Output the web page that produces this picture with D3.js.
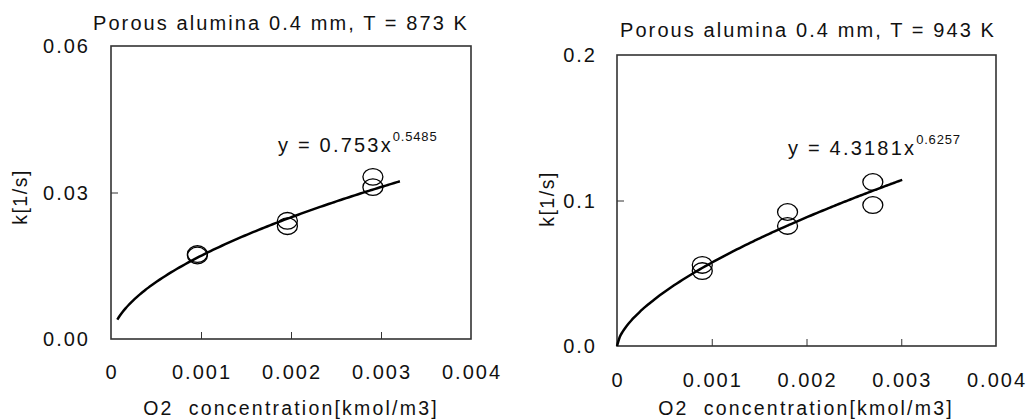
<!DOCTYPE html>
<html>
<head>
<meta charset="utf-8">
<script src="https://cdn.jsdelivr.net/npm/d3@7"></script>
<style>
body { margin: 0; background: #fff; }
svg text { font-family: "Liberation Sans", Arial, sans-serif; fill: #111; white-space: pre; }
.tick-label { font-size: 20px; letter-spacing: 2px; }
.title { font-size: 20px; letter-spacing: 2.1px; }
.axis-title { font-size: 19.5px; letter-spacing: 2.2px; }
.eq { font-size: 20px; letter-spacing: 2.2px; }
.eq-sup { font-size: 13px; letter-spacing: 0.8px; }
.frame { fill: none; stroke: #333; stroke-width: 1.6px; }
.tick line { stroke: #333; stroke-width: 1px; }
.fit { fill: none; stroke: #000; stroke-width: 2.5px; }
.pt { fill: none; stroke: #000; stroke-width: 1.3px; }
</style>
</head>
<body>
<div id="chart"></div>
<script>
var xTicks = [0, 0.001, 0.002, 0.003, 0.004];
var xTickLabels = ["0", "0.001", "0.002", "0.003", "0.004"];

/* left panel, T = 873 K */
var leftX = [0.00096, 0.00096, 0.00196, 0.00196, 0.00291, 0.00291];
var leftK = [0.0171, 0.0174, 0.0242, 0.0231, 0.0332, 0.0311];
var leftYTicks = [0, 0.03, 0.06];
var leftYTickLabels = ["0.00", "0.03", "0.06"];
var leftFit = [0.753, 0.5485];       // coefficient, exponent
var leftFitRange = [0.00007, 0.00321];

/* right panel, T = 943 K */
var rightX = [0.0009, 0.0009, 0.0018, 0.0018, 0.0027, 0.0027];
var rightK = [0.0557, 0.0515, 0.0921, 0.0825, 0.1127, 0.0969];
var rightYTicks = [0, 0.1, 0.2];
var rightYTickLabels = ["0.0", "0.1", "0.2"];
var rightFit = [4.3181, 0.6257];
var rightFitRange = [0, 0.00301];

var w = 1026, h = 419;

var svg = d3.select("#chart").append("svg")
	.attr("width", w)
	.attr("height", h);

function drawPanel(p) {
	var xScale = d3.scaleLinear().domain([0, 0.004]).range([p.left, p.right]);
	var yScale = d3.scaleLinear().domain([0, p.yMax]).range([p.bottom, p.top]);

	var g = svg.append("g");

	/* x ticks, pointing inwards */
	var xAxis = d3.axisTop(xScale).tickValues(xTicks.slice(1, -1)).tickSize(7).tickFormat("");
	g.append("g")
		.attr("transform", "translate(0," + p.bottom + ")")
		.call(xAxis)
		.call(function (s) { s.select(".domain").remove(); });

	var yAxis = d3.axisRight(yScale).tickValues(p.yTicks.slice(1, -1)).tickSize(7).tickFormat("");
	g.append("g")
		.attr("transform", "translate(" + p.left + ",0)")
		.call(yAxis)
		.call(function (s) { s.select(".domain").remove(); });

	g.append("rect")
		.attr("class", "frame")
		.attr("x", p.left)
		.attr("y", p.top)
		.attr("width", p.right - p.left)
		.attr("height", p.bottom - p.top);

	/* tick labels */
	g.selectAll("text.xl").data(xTicks).enter()
		.append("text")
		.attr("class", "tick-label xl")
		.attr("x", function (d) { return xScale(d) + 1; })
		.attr("y", p.xLabelY)
		.attr("text-anchor", "middle")
		.text(function (d, i) { return xTickLabels[i]; });

	g.selectAll("text.yl").data(p.yTicks).enter()
		.append("text")
		.attr("class", "tick-label yl")
		.attr("x", p.yLabelX)
		.attr("y", function (d) { return yScale(d) + 7; })
		.attr("text-anchor", "end")
		.text(function (d, i) { return p.yTickLabels[i]; });

	/* trend line from the shown equation */
	var fitPts = d3.range(0, 101).map(function (i) {
		var x = p.fitRange[0] + (p.fitRange[1] - p.fitRange[0]) * i / 100;
		return [x, p.fit[0] * Math.pow(x, p.fit[1])];
	});
	g.append("path")
		.attr("class", "fit")
		.attr("d", d3.line()
			.x(function (d) { return xScale(d[0]); })
			.y(function (d) { return yScale(d[1]); })
			.curve(d3.curveMonotoneX)(fitPts));

	g.selectAll("ellipse").data(p.xs).enter()
		.append("ellipse")
		.attr("class", "pt")
		.attr("cx", function (d) { return xScale(d); })
		.attr("cy", function (d, i) { return yScale(p.ks[i]); })
		.attr("rx", 10)
		.attr("ry", 8.3);

	/* equation */
	var eq = g.append("text")
		.attr("class", "eq")
		.attr("x", p.eqX)
		.attr("y", p.eqY);
	eq.append("tspan").text(p.eqText);
	eq.append("tspan").attr("class", "eq-sup").attr("dy", -11).text(p.fit[1]);

	g.append("text")
		.attr("class", "title")
		.attr("x", p.titleX)
		.attr("y", p.titleY)
		.attr("text-anchor", "middle")
		.text(p.title);

	g.append("text")
		.attr("class", "axis-title")
		.attr("x", p.xTitleX)
		.attr("y", p.xTitleY)
		.attr("text-anchor", "middle")
		.text("O2  concentration[kmol/m3]");

	g.append("text")
		.attr("class", "axis-title")
		.attr("transform", "translate(" + p.yTitleX + "," + p.yTitleY + ") rotate(-90)")
		.attr("text-anchor", "middle")
		.style("letter-spacing", "1.5px")
		.text("k[1/s]");
}

drawPanel({
	left: 111, right: 471, top: 46, bottom: 339,
	yMax: 0.06, yTicks: leftYTicks, yTickLabels: leftYTickLabels,
	xs: leftX, ks: leftK, fit: leftFit, fitRange: leftFitRange,
	xLabelY: 379, yLabelX: 90,
	eqText: "y = 0.753x", eqX: 278, eqY: 152,
	title: "Porous alumina 0.4 mm, T = 873 K", titleX: 281, titleY: 30,
	xTitleX: 291, xTitleY: 415, yTitleX: 27, yTitleY: 197
});

drawPanel({
	left: 617, right: 996, top: 55, bottom: 346,
	yMax: 0.2, yTicks: rightYTicks, yTickLabels: rightYTickLabels,
	xs: rightX, ks: rightK, fit: rightFit, fitRange: rightFitRange,
	xLabelY: 387, yLabelX: 597,
	eqText: "y = 4.3181x", eqX: 788, eqY: 155,
	title: "Porous alumina 0.4 mm, T = 943 K", titleX: 808, titleY: 37,
	xTitleX: 806, xTitleY: 415, yTitleX: 554, yTitleY: 199
});
</script>
</body>
</html>
